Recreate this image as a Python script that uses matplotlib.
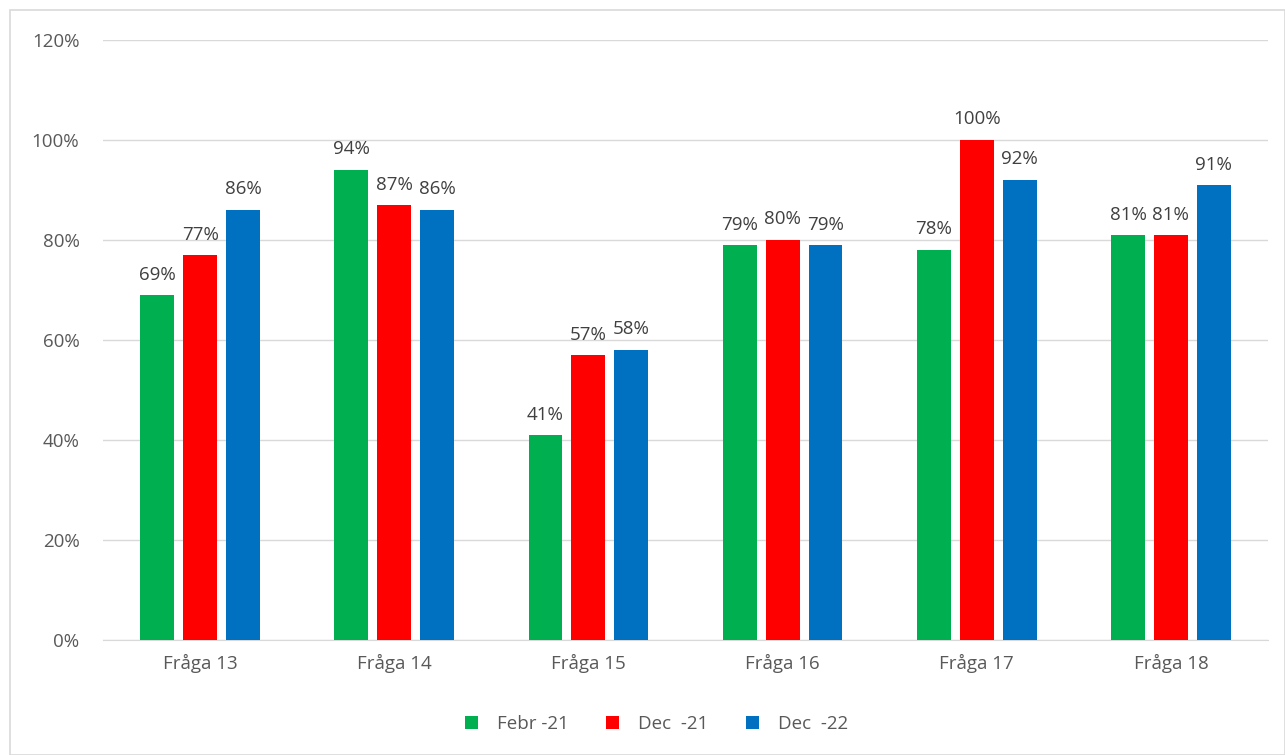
import matplotlib.pyplot as plt
import numpy as np
from matplotlib.patches import Rectangle

categories = ["Fråga 13", "Fråga 14", "Fråga 15", "Fråga 16", "Fråga 17", "Fråga 18"]
series_names = ["Febr -21", "Dec  -21", "Dec  -22"]
febr_21 = [69, 94, 41, 79, 78, 81]
dec_21 = [77, 87, 57, 80, 100, 81]
dec_22 = [86, 86, 58, 79, 92, 91]
colors = ["#00B050", "#FF0000", "#0070C0"]

plt.rcParams['font.family'] = ['Open Sans', 'DejaVu Sans']

fig = plt.figure(figsize=(12.85, 7.55), dpi=100)
# chart frame
fig.patches.append(Rectangle((10 / 1285, 0), 1 - 10 / 1285, 1 - 10 / 755,
                             transform=fig.transFigure, fill=False,
                             edgecolor="#D9D9D9", linewidth=1.2))
ax = fig.add_axes([103 / 1285, 1 - 640 / 755, 1165 / 1285, 600 / 755])

x = np.arange(len(categories))
width = 0.175
step = 0.221
for i, (vals, name, c) in enumerate(zip([febr_21, dec_21, dec_22], series_names, colors)):
    pos = x + (i - 1) * step
    ax.bar(pos, vals, width, color=c, label=name, zorder=3)
    for p, v in zip(pos, vals):
        ax.text(p, v + 2.3, f"{v}%", ha="center", va="bottom", fontsize=13.5, color="#404040")

ax.set_xlim(-0.5, len(categories) - 0.5)
ax.set_ylim(0, 120)
ax.set_yticks(range(0, 121, 20))
ax.set_yticklabels([f"{t}%" for t in range(0, 121, 20)])
ax.set_xticks(x)
ax.set_xticklabels(categories)
ax.tick_params(axis="both", length=0, labelsize=13.5, colors="#595959")
ax.tick_params(axis="y", pad=17)
ax.tick_params(axis="x", pad=10)
ax.grid(axis="y", color="#D9D9D9", linewidth=1, zorder=0)
for s in ["top", "right", "left"]:
    ax.spines[s].set_visible(False)
ax.spines["bottom"].set_color("#D9D9D9")

ax.legend(loc="center", bbox_to_anchor=(0.475, -0.14), ncol=3, frameon=False,
          fontsize=13.5, labelcolor="#595959", handlelength=0.7, handleheight=0.7,
          columnspacing=2.0, handletextpad=1.0)

fig.savefig("out.png", dpi=100)
